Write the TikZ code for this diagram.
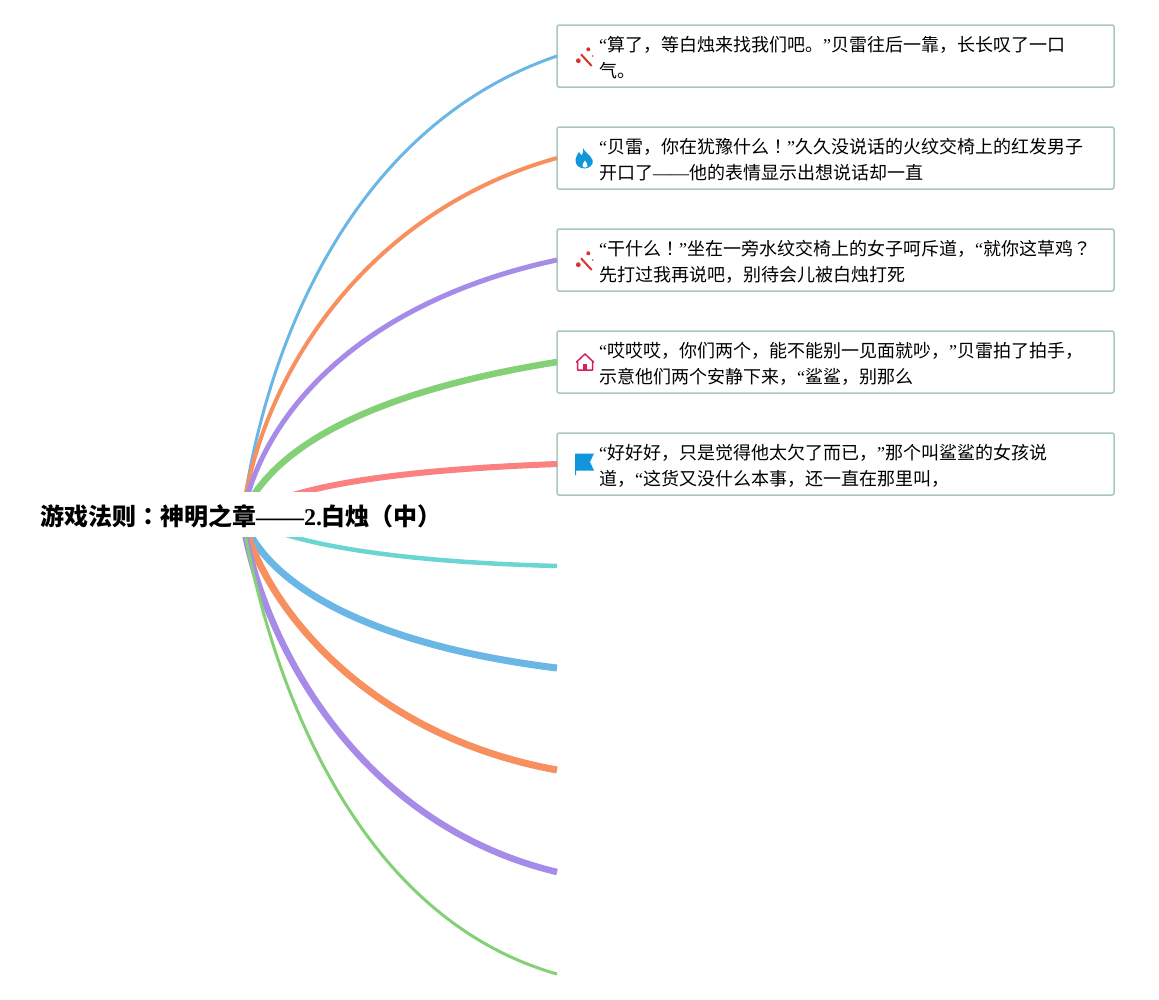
\documentclass[tikz,border=0pt]{standalone}
\usepackage{fontspec}
\setmainfont{Liberation Serif}
\newfontfamily\cjk{Noto Sans CJK SC}
\newfontfamily\cjkmark{Noto Sans CJK TC}
\newcommand{\zh}[1]{{\cjk #1}}
\newcommand{\zm}[1]{{\cjkmark #1}}
\definecolor{skyline}{HTML}{6AB7E6}
\definecolor{orangeline}{HTML}{F78F5F}
\definecolor{purpleline}{HTML}{A78BE8}
\definecolor{greenline}{HTML}{84D076}
\definecolor{redline}{HTML}{FB8080}
\definecolor{cyanline}{HTML}{69D6D3}
\definecolor{boxline}{HTML}{A8C8BE}
\definecolor{iconred}{HTML}{D8352A}
\definecolor{iconblue}{HTML}{1296DB}
\definecolor{iconpink}{HTML}{D81E5B}
\tikzset{
    leaf/.style={draw=boxline, line width=1.5pt, rounded corners=2pt, minimum width=557pt, minimum height=62pt, anchor=north west, inner sep=0pt, outer sep=0pt},
    leaftext/.style={anchor=west, align=left, font=\fontsize{18}{26}\selectfont, inner sep=0pt},
    root/.style={fill=white, inner sep=0pt, minimum width=410pt, minimum height=45pt, font=\fontsize{24}{24}\selectfont\bfseries},
    branch/.style={line cap=butt}
}
% 魔杖图标
\newcommand{\iconwand}[2]{
    \draw[iconred, line width=2pt] (#1-3.5,#2-2.7) -- (#1+7.2,#2+9);
    \fill[iconred] (#1-6.2,#2+3.7) circle (2.4pt) (#1+3.8,#2-7.7) circle (2pt) (#1+8.2,#2-1) circle (.9pt);
}
\begin{document}
\begin{tikzpicture}[x=1pt, y=-1pt]
    \useasboundingbox (0,0) rectangle (1159,999);
    % 右侧方框
    \node[leaf] (leafa) at (557,25) {};
    \node[leaf] (leafb) at (557,127) {};
    \node[leaf] (leafc) at (557,229) {};
    \node[leaf] (leafd) at (557,331) {};
    \node[leaf] (leafe) at (557,433) {};
    % 没有方框的分支端点
    \coordinate (endf) at (557,566);
    \coordinate (endg) at (557,668);
    \coordinate (endh) at (557,770);
    \coordinate (endi) at (557,872);
    \coordinate (endj) at (557,974);
    \coordinate (center) at (242,517);

    % 分支曲线
    \draw[branch, skyline, line width=3pt] (center) .. controls (266,340) and (355,125) .. (leafa.west);
    \draw[branch, orangeline, line width=4pt] (center) .. controls (262,370) and (370,210) .. (leafb.west);
    \draw[branch, purpleline, line width=5pt] (center) .. controls (265,405) and (370,300) .. (leafc.west);
    \draw[branch, greenline, line width=6.5pt] (center) .. controls (270,448) and (370,392) .. (leafd.west);
    \draw[branch, redline, line width=6pt] (center) .. controls (290,485) and (400,470) .. (leafe.west);
    \draw[branch, cyanline, line width=4.5pt] (center) .. controls (290,545) and (400,562) .. (endf);
    \draw[branch, skyline, line width=7pt] (center) .. controls (266,585) and (370,645) .. (endg);
    \draw[branch, orangeline, line width=7pt] (center) .. controls (264,605) and (365,735) .. (endh);
    \draw[branch, purpleline, line width=6.5pt] (center) .. controls (262,645) and (360,825) .. (endi);
    \draw[branch, greenline, line width=3pt] (center) .. controls (268,670) and (350,915) .. (endj);

    % 中心标题
    \node[root] (title) at (241,514.5) {\raisebox{-11pt}[0pt][0pt]{\zh{游戏法则}\zm{：}\zh{神明之章}——2.\zh{白烛（中）}}};

    % 方框文字
    \node[leaftext] (texta) at (599,57.5) {“\zh{算了，等白烛来找我们吧。}”\zh{贝雷往后一靠，长长叹了一口}\\\zh{气。}};
    \node[leaftext] (textb) at (599,159.5) {“\zh{贝雷，你在犹豫什么}\zm{！}”\zh{久久没说话的火纹交椅上的红发男子}\\\zh{开口了}——\zh{他的表情显示出想说话却一直}};
    \node[leaftext] (textc) at (599,261.5) {“\zh{干什么}\zm{！}”\zh{坐在一旁水纹交椅上的女子呵斥道，}“\zh{就你这草鸡}\zm{？}\\\zh{先打过我再说吧，别待会儿被白烛打死}};
    \node[leaftext] (textd) at (599,363.5) {“\zh{哎哎哎，你们两个，能不能别一见面就吵，}”\zh{贝雷拍了拍手，}\\\zh{示意他们两个安静下来，}“\zh{鲨鲨，别那么}};
    \node[leaftext] (texte) at (599,465.5) {“\zh{好好好，只是觉得他太欠了而已，}”\zh{那个叫鲨鲨的女孩说}\\\zh{道，}“\zh{这货又没什么本事，还一直在那里叫，}};

    % 图标
    \iconwand{584.5}{57}
    \iconwand{584.5}{261}
    \fill[iconblue] (583,148) .. controls (585,153) and (590,154) .. (592.5,160) .. controls (594,165) and (589,168.5) .. (584.5,168.5) .. controls (580,168.5) and (575,165.5) .. (575.5,160) .. controls (576,156) and (578,154) .. (579,152) .. controls (580,154) and (581,155) .. (582,155) .. controls (583,153) and (583.5,151) .. (583,148) -- cycle;
    \fill[white] (585,160.5) .. controls (586,163) and (588,164) .. (587.5,166) .. controls (587,168) and (583,168) .. (582.5,166) .. controls (582,164) and (584,163) .. (585,160.5) -- cycle;
    \draw[iconpink, line width=1.5pt, line join=round] (576.5,362) -- (585,354) -- (593.5,362) -- (592.5,362) -- (592.5,370) -- (577.5,370) -- (577.5,362) -- cycle;
    \fill[iconpink] (582.7,370) rectangle (586.7,364);
    \fill[iconblue] (575,453.5) -- (594,453.5) -- (590,462) -- (594,470.5) -- (576,470.5) -- (576,475) -- (575,475) -- cycle;
\end{tikzpicture}
\end{document}
